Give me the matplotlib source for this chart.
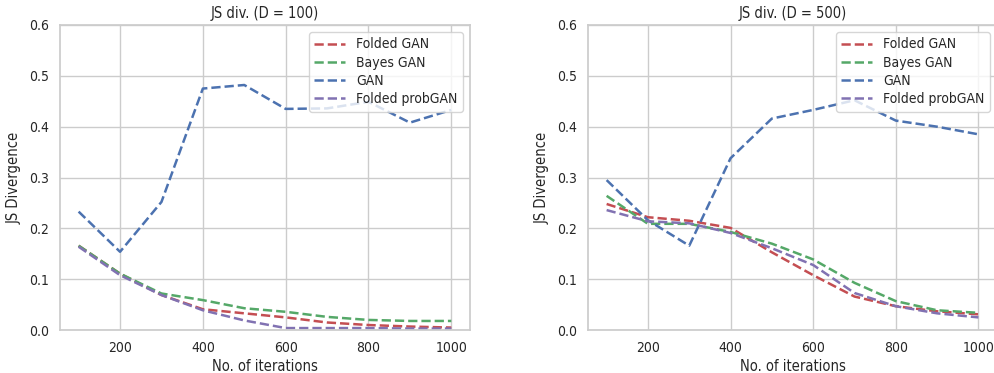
import matplotlib
matplotlib.use("Agg")
import matplotlib.pyplot as plt
import seaborn as sns

sns.set_theme(style="whitegrid", context="notebook")
plt.rcParams['font.family'] = ['DejaVu Sans']
plt.rcParams['font.stretch'] = 'condensed'

iters = [100, 200, 300, 400, 500, 600, 700, 800, 900, 1000]

# D = 100
d100_folded_gan = [0.166, 0.111, 0.069, 0.041, 0.033, 0.025, 0.015, 0.010, 0.007, 0.005]
d100_bayes_gan = [0.166, 0.111, 0.072, 0.059, 0.043, 0.036, 0.026, 0.020, 0.018, 0.018]
d100_gan = [0.233, 0.154, 0.252, 0.475, 0.482, 0.435, 0.436, 0.449, 0.408, 0.433]
d100_folded_prob = [0.164, 0.108, 0.069, 0.039, 0.019, 0.004, 0.004, 0.004, 0.003, 0.003]

# D = 500
d500_folded_gan = [0.248, 0.222, 0.215, 0.201, 0.153, 0.108, 0.066, 0.047, 0.037, 0.031]
d500_bayes_gan = [0.264, 0.209, 0.209, 0.193, 0.170, 0.139, 0.093, 0.057, 0.039, 0.034]
d500_gan = [0.295, 0.216, 0.166, 0.338, 0.416, 0.433, 0.452, 0.412, 0.400, 0.385]
d500_folded_prob = [0.236, 0.214, 0.210, 0.191, 0.161, 0.128, 0.073, 0.047, 0.033, 0.025]

labels = ["Folded GAN", "Bayes GAN", "GAN", "Folded probGAN"]
colors = ["#C44E52", "#55A868", "#4C72B0", "#8172B2"]
titles = ["JS div. (D = 100)", "JS div. (D = 500)"]
panels = [
    [d100_folded_gan, d100_bayes_gan, d100_gan, d100_folded_prob],
    [d500_folded_gan, d500_bayes_gan, d500_gan, d500_folded_prob],
]

fig = plt.figure(figsize=(9.95, 3.73), dpi=100)
positions = [[0.0603, 0.115, 0.412, 0.818], [0.591, 0.115, 0.411, 0.818]]

for pos, series, title in zip(positions, panels, titles):
    ax = fig.add_axes(pos)
    for vals, lab, col in zip(series, labels, colors):
        ax.plot(iters, vals, linestyle="--", color=col, linewidth=1.8, label=lab)
    ax.set_ylim(0, 0.6)
    ax.set_yticks([0.0, 0.1, 0.2, 0.3, 0.4, 0.5, 0.6])
    ax.set_xticks([200, 400, 600, 800, 1000])
    ax.set_title(title, fontsize=10.5, pad=5)
    ax.tick_params(labelsize=10, pad=2)
    ax.set_xlabel("No. of iterations", fontsize=10.5, labelpad=3)
    ax.set_ylabel("JS Divergence", fontsize=10.5, labelpad=5)
    ax.legend(loc="upper right", fontsize=10, borderaxespad=0.5,
              handlelength=2.2, labelspacing=0.3, framealpha=0.8)

fig.savefig("out.png", dpi=100)
